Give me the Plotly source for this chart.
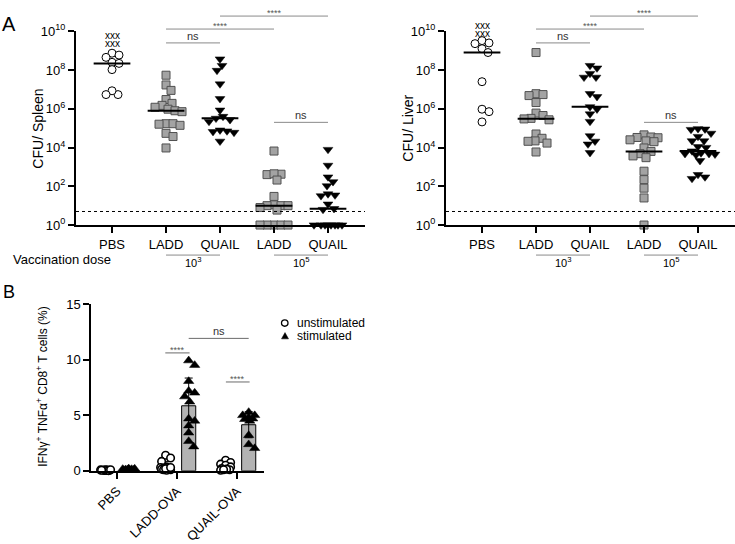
import numpy as np
import plotly.graph_objects as go

# ---------------- DATA ----------------
groups_A = ["PBS", "LADD", "QUAIL", "LADD", "QUAIL"]
dose_labels = ["10<sup>3</sup>", "10<sup>5</sup>"]
y_ticks_A = [1, 1e2, 1e4, 1e6, 1e8, 1e10]
y_ticktext_A = ["10<sup>0</sup>", "10<sup>2</sup>", "10<sup>4</sup>", "10<sup>6</sup>",
                "10<sup>8</sup>", "10<sup>10</sup>"]
detection_limit = 5

spleen_pbs = [7.4e8, 2.5e8, 4.5e8, 5.9e8, 2.2e8, 1.05e8, 5.4e6, 8.5e6, 5.4e6]
spleen_ladd_1e3 = [5.4e7, 1.7e7, 8.9e6, 3.0e6, 1.9e6, 1.5e6, 1.2e6, 9.5e5, 7.9e5, 7.1e5,
                   1.7e5, 1.7e5, 1.6e5, 1.4e5, 5.4e4, 3.7e4, 9.5e3]
spleen_quail_1e3 = [3.7e8, 1.7e8, 9.5e7, 1.9e7, 3.3e6, 8.5e5, 4.0e5, 3.2e5, 2.7e5, 2.2e5,
                    7.9e4, 7.1e4, 6.6e4, 6.0e4, 2.1e4]
spleen_ladd_1e5 = [6600, 400, 420, 440, 210, 30, 11, 10, 10, 10, 8, 5.9, 1, 1, 1, 1, 1]
spleen_quail_1e5 = [7900, 1200, 300, 170, 105, 40, 35, 32, 12, 7, 6.3, 1, 1, 1, 1, 1, 1, 1, 1]

liver_pbs = [2.3e9, 3.3e9, 2.5e9, 1.26e9, 8e8, 2.5e7, 9.5e5, 7.1e5, 2.1e5]
liver_ladd_1e3 = [8e8, 6.0e6, 5.4e6, 4.8e6, 2.1e6, 6.0e5, 4.5e5, 3.2e5, 3.0e5, 2.7e5,
                  5.0e4, 3.0e4, 2.2e4, 2.1e4, 1.7e4, 5.9e3]
liver_quail_1e3 = [1.7e8, 1.26e8, 6.6e7, 4.2e7, 4.2e7, 6.0e6, 4.2e6, 1.26e6, 9.5e5, 5.4e5,
                   2.2e5, 4.0e4, 2.1e4, 1.5e4, 5.4e3]
liver_ladd_1e5 = [4.5e4, 3.5e4, 3.3e4, 3.2e4, 2.5e4, 2.2e4, 2.0e4, 9.5e3, 6.3e3, 4.8e3,
                  3.7e3, 3.0e3, 600, 220, 80, 25, 1]
liver_quail_1e5 = [9.3e4, 8.9e4, 8.5e4, 5.4e4, 3.7e4, 2.2e4, 2.2e4, 1.1e4, 1.0e4, 6.6e3,
                   5.2e3, 4.8e3, 4.8e3, 4.5e3, 4.2e3, 2.1e3, 400, 300, 250]

groups_B = ["PBS", "LADD-OVA", "QUAIL-OVA"]
pbs_unstim = [0.05, 0.08, 0.03, 0.1, 0.06, 0.04, 0.07, 0.02, 0.09, 0.05]
pbs_stim = [0.1, 0.15, 0.05, 0.2, 0.12, 0.08, 0.1, 0.18, 0.06, 0.14]
ladd_unstim = [1.4, 1.15, 0.85, 0.35, 0.3, 0.25, 0.2, 0.15, 0.1, 0.1, 0.05, 0.2, 0.3]
ladd_stim = [9.53, 9.94, 8.08, 7.2, 7.03, 6.69, 6.22, 4.7, 4.5, 4.07, 3.43, 2.67, 2.18]
quail_unstim = [0.95, 0.75, 0.6, 0.5, 0.35, 0.2, 0.1, 0.05, 0.15, 0.1]
quail_stim = [5.29, 5.0, 5.0, 4.8, 4.7, 4.65, 4.5, 3.2, 2.38, 2.03]

# ---------------- LAYOUT HELPERS ----------------
W, H = 735, 544
FONT = "Liberation Sans, Arial, sans-serif"


def pxp(x):
    return x / W


def pyp(y):
    return 1 - y / H


def swarm(ypix, size, maxhalf):
    ypix = np.asarray(ypix, dtype=float)
    n = len(ypix)
    order = np.argsort(ypix, kind="stable")
    cands = sorted(range(-maxhalf, maxhalf + 1), key=lambda c: (abs(c), c < 0))
    placed = []
    off = np.zeros(n)
    for i in order:
        y = ypix[i]
        best = None
        for c in cands:
            if all((c - a) ** 2 + (y - b) ** 2 >= size ** 2 for a, b in placed):
                best = c
                break
        if best is None:
            best = max(cands, key=lambda c: min((c - a) ** 2 + (y - b) ** 2 for a, b in placed))
        placed.append((best, y))
        off[i] = best
    return off


fig = go.Figure()

# ---------------- PANEL A ----------------
A_x_px_per_unit = 54.0
A_y_px_per_dec = 20.0
marker_styles = [
    dict(symbol="circle", size=8, color="white", line=dict(color="black", width=1)),
    dict(symbol="square", size=8, color="#a3a3a3", line=dict(color="#505050", width=1)),
    dict(symbol="triangle-down", size=8.5, color="black", line=dict(color="black", width=0.5)),
    dict(symbol="square", size=8, color="#a3a3a3", line=dict(color="#505050", width=1)),
    dict(symbol="triangle-down", size=8.5, color="black", line=dict(color="black", width=0.5)),
]

panels = [
    ("x", "y", [spleen_pbs, spleen_ladd_1e3, spleen_quail_1e3, spleen_ladd_1e5, spleen_quail_1e5]),
    ("x2", "y2", [liver_pbs, liver_ladd_1e3, liver_quail_1e3, liver_ladd_1e5, liver_quail_1e5]),
]
for xa, ya, sets in panels:
    for i, vals in enumerate(sets):
        v = np.asarray(vals, dtype=float)
        ypix = -np.log10(v) * A_y_px_per_dec
        off = swarm(ypix, 7, 17) / A_x_px_per_unit
        fig.add_trace(go.Scatter(x=i + off, y=v, mode="markers", marker=marker_styles[i],
                                 xaxis=xa, yaxis=ya, cliponaxis=False, showlegend=False,
                                 hoverinfo="skip"))
    for i, vals in enumerate(sets):
        med = float(np.median(vals))
        fig.add_trace(go.Scatter(x=[i - 0.34, i + 0.34], y=[med, med], mode="lines",
                                 line=dict(color="black", width=2), xaxis=xa, yaxis=ya,
                                 showlegend=False, hoverinfo="skip", cliponaxis=False))

# ---------------- PANEL B ----------------
B_x_px_per_unit = 60.0
B_y_px_per_unit = 11.45
unstim_sets = [pbs_unstim, ladd_unstim, quail_unstim]
stim_sets = [pbs_stim, ladd_stim, quail_stim]
dx_u, dx_s = -0.19, 0.195

means_u = [float(np.mean(s)) for s in unstim_sets]
sds_u = [float(np.std(s, ddof=1)) for s in unstim_sets]
means_s = [float(np.mean(s)) for s in stim_sets]
sds_s = [float(np.std(s, ddof=1)) for s in stim_sets]

for means, sds, dx in [(means_u, sds_u, dx_u), (means_s, sds_s, dx_s)]:
    fig.add_trace(go.Bar(x=[g + dx for g in range(3)], y=means, width=0.235,
                         marker=dict(color="#b3b3b3", line=dict(color="black", width=1)),
                         error_y=dict(type="data", array=sds, color="black", thickness=1, width=4),
                         xaxis="x3", yaxis="y3", showlegend=False, hoverinfo="skip"))

for sets, dx, mk, mh in [
    (unstim_sets, dx_u, dict(symbol="circle", size=7.5, color="white", line=dict(color="black", width=1.6)), 5),
    (stim_sets, dx_s, dict(symbol="triangle-up", size=9, color="black", line=dict(color="black", width=0.5)), 6),
]:
    for g, vals in enumerate(sets):
        v = np.asarray(vals, dtype=float)
        off = swarm(-v * B_y_px_per_unit, 7, mh) / B_x_px_per_unit
        fig.add_trace(go.Scatter(x=g + dx + off, y=v, mode="markers", marker=mk,
                                 xaxis="x3", yaxis="y3", cliponaxis=False, showlegend=False,
                                 hoverinfo="skip"))

# ---------------- AXES ----------------
axis_common = dict(showline=True, linecolor="black", showgrid=False, zeroline=False,
                   ticks="outside", tickcolor="black", ticklen=6,
                   tickfont=dict(family=FONT, size=13, color="black"))

A_xr = [-0.667, 4.685]
fig.update_layout(
    width=W, height=H, margin=dict(l=0, r=0, t=0, b=0),
    paper_bgcolor="white", plot_bgcolor="rgba(0,0,0,0)",
    barmode="overlay", font=dict(family=FONT, color="black"),
    xaxis=dict(domain=[pxp(76), pxp(365)], range=A_xr, tickvals=list(range(5)), ticktext=groups_A,
               anchor="y", linewidth=2, tickwidth=2, **axis_common),
    yaxis=dict(domain=[pyp(223), pyp(23)], type="log", range=[0, 10], tickvals=y_ticks_A,
               ticktext=y_ticktext_A, anchor="x", linewidth=2, tickwidth=2, **axis_common),
    xaxis2=dict(domain=[pxp(446), 1.0], range=A_xr, tickvals=list(range(5)), ticktext=groups_A,
                anchor="y2", linewidth=2, tickwidth=2, **axis_common),
    yaxis2=dict(domain=[pyp(223), pyp(23)], type="log", range=[0, 10], tickvals=y_ticks_A,
                ticktext=y_ticktext_A, anchor="x2", linewidth=2, tickwidth=2, **axis_common),
    xaxis3=dict(domain=[pxp(91), pxp(264)], range=[-0.433, 2.45], tickvals=list(range(3)),
                ticktext=groups_B, tickangle=-45, anchor="y3", linewidth=1.5, tickwidth=1.5,
                **axis_common),
    yaxis3=dict(domain=[pyp(476.7), pyp(305)], range=[0, 15], tickvals=[0, 5, 10, 15],
                anchor="x3", linewidth=1.5, tickwidth=1.5, **axis_common),
)

shapes = []
annotations = []


def ann(text, x, y, xref="paper", yref="paper", size=13, color="black", xanchor="center",
        yanchor="middle", angle=0):
    annotations.append(dict(text=text, x=x, y=y, xref=xref, yref=yref, showarrow=False,
                            font=dict(family=FONT, size=size, color=color), xanchor=xanchor,
                            yanchor=yanchor, textangle=angle, borderpad=0))


def hline(x0, x1, ypx, xref, color="#8a8a8a", width=1, dash=None):
    shapes.append(dict(type="line", xref=xref, yref="paper", x0=x0, x1=x1, y0=pyp(ypx),
                       y1=pyp(ypx), line=dict(color=color, width=width, dash=dash)))


# panel letters
ann("A", pxp(8.5), pyp(15.5), size=20)
ann("B", pxp(9), pyp(292.5), size=18)

# y titles
ann("CFU/ Spleen", pxp(38), pyp(123.5), size=14, angle=-90)
ann("CFU/ Liver", pxp(408), pyp(123.5), size=14, angle=-90)
ann("IFNγ<sup>+</sup> TNFα<sup>+</sup> CD8<sup>+</sup> T cells (%)", pxp(42), pyp(390), size=12, angle=-90)

ann("Vaccination dose", pxp(12), pyp(259), size=13, xanchor="left")

sig_A = [(1, 2, 35, "ns"), (1, 3, 20.7, "****"), (2, 4, 7.3, "****"), (3, 4, 117, "ns")]
for xa, left in [("x", 76), ("x2", 446)]:
    # detection limit
    shapes.append(dict(type="line", xref=xa + " domain", yref=xa.replace("x", "y"),
                       x0=0, x1=1, y0=detection_limit, y1=detection_limit,
                       line=dict(color="black", width=1, dash="dot")))
    for a, b, ly, t in sig_A:
        hline(a, b, ly, xa)
        if t == "ns":
            ann(t, (a + b) / 2, pyp(ly - 7.5), xref=xa, size=11, color="#333333")
        else:
            ann(t, (a + b) / 2, pyp(ly - 3.5), xref=xa, size=9, color="#555555")
    for k, (a, b) in enumerate([(1, 2), (3, 4)]):
        hline(a, b, 254, xa)
        ann(dose_labels[k], (a + b) / 2, pyp(261), xref=xa, size=11)

ann("xxx", 0, pyp(27.5), xref="x", size=10)
ann("xxx", 0, pyp(36), xref="x", size=10)
ann("xxx", 0, pyp(17), xref="x2", size=10)
ann("xxx", 0, pyp(25.5), xref="x2", size=10)

# panel B significance
sig_B = [(1 + dx_u - 0.005, 1 + dx_s + 0.015, 355, "****"), (1 + dx_s, 2 + dx_s, 340, "ns"),
         (2 + dx_u + 0.005, 2 + dx_s + 0.015, 385, "****")]
for a, b, ly, t in sig_B:
    hline(a, b, ly, "x3", color="#6a6a6a")
    if t == "ns":
        ann(t, (a + b) / 2, pyp(ly - 7.5), xref="x3", size=11, color="#333333")
    else:
        ann(t, (a + b) / 2, pyp(ly - 3.5), xref="x3", size=9, color="#555555")

# legend for panel B
shapes.append(dict(type="circle", xref="paper", yref="paper", x0=pxp(281.5), x1=pxp(288),
                   y0=pyp(327.5), y1=pyp(321), line=dict(color="black", width=1.3),
                   fillcolor="white"))
shapes.append(dict(type="path", xref="paper", yref="paper",
                   path=f"M {pxp(281.5)},{pyp(340.5)} L {pxp(288.5)},{pyp(340.5)} L {pxp(285)},{pyp(334)} Z",
                   fillcolor="black", line=dict(color="black", width=0.5)))
ann("unstimulated", pxp(296), pyp(324.5), size=12, xanchor="left")
ann("stimulated", pxp(296), pyp(337.5), size=12, xanchor="left")

fig.update_layout(shapes=shapes, annotations=annotations)
fig.write_html("out.html")
